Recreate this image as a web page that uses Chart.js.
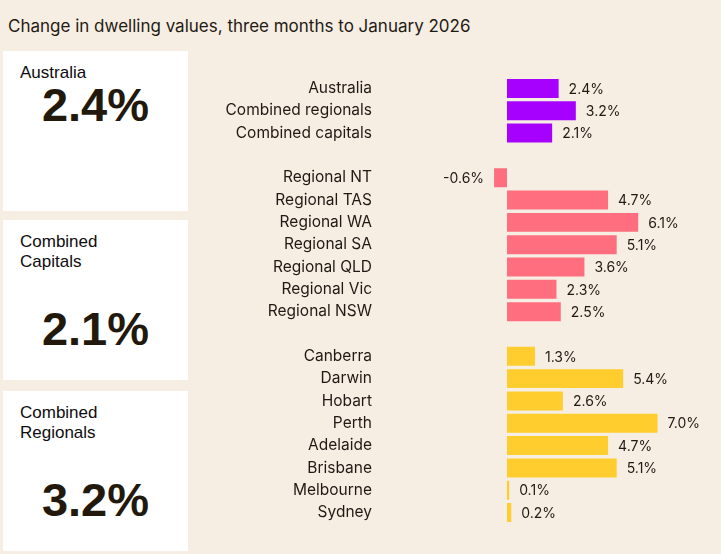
<!DOCTYPE html>
<html>
<head>
<meta charset="utf-8">
<script src="https://cdn.jsdelivr.net/npm/chart.js@4"></script>
<style>
  body { margin: 0; background: #f6eee3; width: 721px; height: 554px; overflow: hidden; position: relative; font-family: Inter, sans-serif; color: #1f1a14; }
  #title { position: absolute; left: 8px; top: 16px; font-size: 17px; white-space: nowrap; }
  .card { position: absolute; left: 3px; width: 185px; height: 160px; background: #fff; }
  .card .lbl { position: absolute; left: 17px; top: 12px; font-family: "Liberation Sans", Arial, sans-serif; font-size: 17px; line-height: 20px; color: #0e0c10; }
  .card .num { position: absolute; left: 0; width: 100%; text-align: center; font-family: "Liberation Sans", Arial, sans-serif; font-weight: bold; font-size: 47px; color: #22190c; }
  #wrap { position: absolute; left: 190px; top: 67px; width: 531px; height: 467px; }
</style>
</head>
<body>
<div id="title">Change in dwelling values, three months to January 2026</div>
<div id="cards"></div>
<div id="wrap"><canvas id="chart"></canvas></div>
<script>
// summary cards
const cardLabels = [['Australia'], ['Combined', 'Capitals'], ['Combined', 'Regionals']];
const cardValues = ['2.4%', '2.1%', '3.2%'];

// bar chart (empty strings are the gaps between groups)
const categories = [
    'Australia', 'Combined regionals', 'Combined capitals', '',
    'Regional NT', 'Regional TAS', 'Regional WA', 'Regional SA', 'Regional QLD', 'Regional Vic', 'Regional NSW', '',
    'Canberra', 'Darwin', 'Hobart', 'Perth', 'Adelaide', 'Brisbane', 'Melbourne', 'Sydney'
];
const values = [
    2.4, 3.2, 2.1, null,
    -0.6, 4.7, 6.1, 5.1, 3.6, 2.3, 2.5, null,
    1.3, 5.4, 2.6, 7.0, 4.7, 5.1, 0.1, 0.2
];
const groups = [
    'aus', 'aus', 'aus', '',
    'reg', 'reg', 'reg', 'reg', 'reg', 'reg', 'reg', '',
    'cap', 'cap', 'cap', 'cap', 'cap', 'cap', 'cap', 'cap'
];
const groupColors = { aus: '#a600ff', reg: '#ff6e7f', cap: '#ffcd2e', '': 'transparent' };

const cardTops = [51, 220, 391];
const numTops = [77, 301, 472];
const cardsEl = document.getElementById('cards');
cardLabels.forEach((lines, i) => {
    const card = document.createElement('div');
    card.className = 'card';
    card.style.top = cardTops[i] + 'px';
    card.innerHTML = '<div class="lbl">' + lines.join('<br>') + '</div>' +
        '<div class="num" style="top:' + (numTops[i] - cardTops[i]) + 'px">' + cardValues[i] + '</div>';
    cardsEl.appendChild(card);
});

const valueLabels = {
    id: 'valueLabels',
    afterDatasetsDraw(chart) {
        const ctx = chart.ctx;
        const meta = chart.getDatasetMeta(0);
        ctx.save();
        ctx.font = '14px Inter, sans-serif';
        ctx.fillStyle = '#1f1a14';
        ctx.textBaseline = 'middle';
        meta.data.forEach((bar, i) => {
            const v = values[i];
            if (v === null) return;
            const text = v.toFixed(1) + '%';
            if (v < 0) {
                ctx.textAlign = 'right';
                ctx.fillText(text, bar.x - 10, bar.y + 1);
            } else {
                ctx.textAlign = 'left';
                ctx.fillText(text, bar.x + 10, bar.y + 1);
            }
        });
        ctx.restore();
    }
};

new Chart(document.getElementById('chart'), {
    type: 'bar',
    data: {
        labels: categories,
        datasets: [{
            data: values,
            backgroundColor: groups.map(g => groupColors[g]),
            barPercentage: 0.85,
            categoryPercentage: 1
        }]
    },
    options: {
        indexAxis: 'y',
        responsive: true,
        maintainAspectRatio: false,
        animation: false,
        layout: { padding: 0 },
        plugins: { legend: { display: false }, tooltip: { enabled: false } },
        scales: {
            x: { display: false, min: -6.23, max: 9.95 },
            y: {
                afterFit: (scale) => { scale.width = 183; },
                grid: { display: false, drawTicks: false },
                border: { display: false },
                ticks: {
                    padding: 1,
                    color: '#1f1a14',
                    font: { family: 'Inter, sans-serif', size: 15.5 }
                }
            }
        }
    },
    plugins: [valueLabels]
});
</script>
</body>
</html>
